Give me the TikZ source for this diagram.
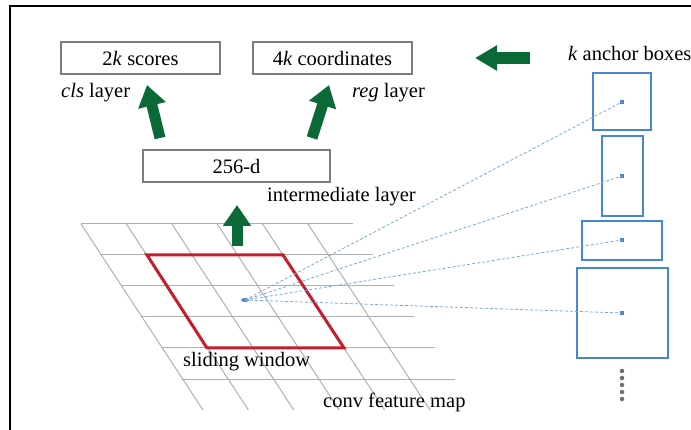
\documentclass[tikz,border=0pt]{standalone}
\usepackage{fontspec}
\setmainfont{Liberation Serif}
\usetikzlibrary{arrows.meta,shapes.geometric}
\definecolor{gboxc}{RGB}{125,125,125}
\definecolor{darkg}{RGB}{10,105,55}
\definecolor{redw}{RGB}{195,30,45}
\definecolor{anch}{RGB}{70,135,205}
\definecolor{dashc}{RGB}{120,170,225}
\definecolor{gridc}{RGB}{175,175,175}
\definecolor{ellc}{RGB}{110,110,110}
\tikzset{
  txt/.style={font=\fontsize{20.5}{24}\selectfont, inner sep=0pt},
  labelbox/.style={txt, draw=gboxc, line width=1.3pt, minimum height=32pt},
  anchorbox/.style={draw=anch, line width=1.3pt, inner sep=0pt},
  adot/.style={fill=anch, inner sep=0pt, minimum size=4pt},
  dl/.style={dashc, line width=0.8pt, dash pattern=on 3pt off 2pt},
  bigarrow/.style={darkg, line width=11pt, -{Triangle[length=21pt,width=27pt]}},
  gridline/.style={gridc, line width=1pt},
  ellipsisdot/.style={circle, fill=ellc, inner sep=0pt, minimum size=4.5pt}
}
\begin{document}
\begin{tikzpicture}[x=1pt,y=-1pt]
\useasboundingbox (0,0) rectangle (691,430);
% frame
\draw[line width=2pt] (10,430) -- (10,6) -- (691,6);

% grid
\foreach \i in {0,...,5}{
  \draw[gridline] ({81+20.2*\i},{224+31*\i}) -- ({353+20.4*\i},{224+31*\i});
}
\foreach \j in {0,...,5}{
  \draw[gridline] ({81+45.4*\j},224) -- ({203+45.4*\j},410);
}
% sliding window
\draw[redw, line width=3pt, line join=miter] (147,255) -- (283,255) -- (344,348) -- (207,348) -- cycle;

% top boxes
\node[labelbox, minimum width=159pt] (cls) at (140.5,58) {2\textit{k} scores};
\node[labelbox, minimum width=159pt] (reg) at (332.5,58) {4\textit{k} coordinates};
\node[labelbox, minimum width=187pt] (mid) at (236.5,166) {256-d};

% labels
\node[txt, anchor=west] (clslab) at (61,93) {\textit{cls} layer};
\node[txt, anchor=west] (reglab) at (352,93) {\textit{reg} layer};
\node[txt, anchor=west] (intlab) at (267,197) {intermediate layer};
\node[txt, anchor=west] (swlab) at (183,362) {sliding window};
\node[txt, anchor=west] (cfmlab) at (323,402) {conv feature map};
\node[txt, anchor=west] (kab) at (568,53) {\textit{k} anchor boxes};

% anchor boxes
\node[anchorbox, minimum width=58pt, minimum height=57pt] (a1) at (622,101.5) {};
\node[anchorbox, minimum width=41pt, minimum height=80pt] (a2) at (622.5,176) {};
\node[anchorbox, minimum width=80pt, minimum height=39pt] (a3) at (622,240.5) {};
\node[anchorbox, minimum width=91pt, minimum height=90pt] (a4) at (622.5,313) {};
\node[adot] (d1) at (622,102) {};
\node[adot] (d2) at (622,176) {};
\node[adot] (d3) at (622,240) {};
\node[adot] (d4) at (622,313) {};

% center point
\node[fill=anch, ellipse, inner sep=0pt, minimum width=8pt, minimum height=4pt] (ctr) at (245,300) {};
\foreach \d in {d1,d2,d3,d4}{
  \draw[dl] (ctr.center) -- (\d.center);
}

% vertical ellipsis
\foreach \k [count=\n] in {371,378,385,392,399}{
  \node[ellipsisdot] (e\n) at (622,\k) {};
}

% arrows
\coordinate (clsbase) at (160,138);
\coordinate (clstip) at (147,85);
\coordinate (regbase) at (312,138);
\coordinate (regtip) at (329,85);
\coordinate (midbase) at (237,246);
\coordinate (midtip) at (237,205);
\coordinate (leftbase) at (530,58);
\coordinate (lefttip) at (475,58);
\draw[bigarrow] (clsbase) -- (clstip);
\draw[bigarrow] (regbase) -- (regtip);
\draw[bigarrow] (midbase) -- (midtip);
\draw[bigarrow, line width=12pt, -{Triangle[length=22pt,width=24pt]}] (leftbase) -- (lefttip);
\end{tikzpicture}
\end{document}
